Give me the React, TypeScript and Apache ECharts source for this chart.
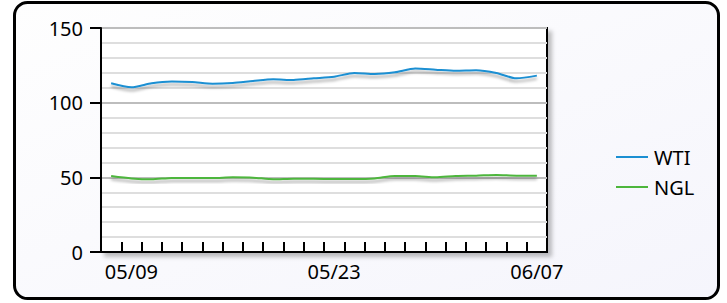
import React, { useEffect, useRef } from "react";
import * as echarts from "echarts";

const categories = [
  "05/06", "05/09", "05/10", "05/11", "05/12", "05/13", "05/16", "05/17", "05/18", "05/19", "05/20",
  "05/23", "05/24", "05/25", "05/26", "05/27", "05/31", "06/01", "06/02", "06/03", "06/06", "06/07",
];
const wtiValues = [
  113.0, 110.3, 113.0, 114.1, 113.8, 112.7, 113.2, 114.5, 115.6, 115.2, 116.3,
  117.4, 119.9, 119.2, 120.3, 122.8, 122.1, 121.4, 121.7, 119.9, 116.3, 118.1,
];
const nglValues = [
  50.9, 49.3, 48.7, 49.6, 49.6, 49.6, 50.0, 49.8, 48.7, 49.1, 49.0,
  48.9, 48.9, 49.3, 50.9, 50.9, 50.0, 50.9, 51.1, 51.6, 51.1, 51.1,
];
const shownLabels = [1, 11, 21];
const yTicks = { min: 0, max: 150, interval: 50 };

const FONT = "Noto Sans";

export default function App() {
  const ref = useRef<HTMLDivElement>(null);
  useEffect(() => {
    if (!ref.current) return;
    const chart = echarts.init(ref.current, undefined, { renderer: "svg" });
    const lineShadow = {
      shadowColor: "rgba(0,0,0,0.35)",
      shadowBlur: 3,
      shadowOffsetY: 3,
    };
    chart.setOption({
      animation: false,
      backgroundColor: "#ffffff",
      textStyle: { fontFamily: FONT },
      graphic: [
        {
          type: "rect",
          z: -100,
          silent: true,
          shape: { x: 14.5, y: 2.5, width: 704, height: 296, r: 13 },
          style: {
            fill: new echarts.graphic.LinearGradient(0, 0, 1, 1, [
              { offset: 0, color: "#fefefe" },
              { offset: 1, color: "#f5f5fc" },
            ]),
            stroke: "#000",
            lineWidth: 3,
          },
        },
      ],
      grid: {
        left: 101,
        right: 180,
        top: 28,
        bottom: 51,
        show: true,
        backgroundColor: "#ffffff",
        borderColor: "#000",
        borderWidth: 2,
        shadowColor: "rgba(0,0,0,0.25)",
        shadowBlur: 4,
        shadowOffsetX: 4,
        shadowOffsetY: 4,
      },
      legend: {
        orient: "vertical",
        left: 611,
        top: 142,
        itemWidth: 32,
        itemHeight: 2,
        itemGap: 10,
        icon: "rect",
        textStyle: { fontFamily: FONT, fontSize: 20, color: "#000", padding: [0, 0, 0, 1] },
        data: ["WTI", "NGL"],
      },
      xAxis: {
        type: "category",
        data: categories,
        boundaryGap: true,
        axisLine: { show: true, lineStyle: { color: "#000", width: 2 } },
        axisTick: { show: true, inside: true, length: 10, interval: 0, lineStyle: { color: "#000", width: 2 } },
        axisLabel: {
          color: "#000",
          fontFamily: FONT,
          fontSize: 20,
          margin: 9,
          interval: (i: number) => shownLabels.includes(i),
        },
        splitLine: { show: false },
      },
      yAxis: {
        type: "value",
        min: yTicks.min,
        max: yTicks.max,
        interval: yTicks.interval,
        axisLine: { show: true, lineStyle: { color: "#000", width: 2 } },
        axisTick: { show: true, inside: false, length: 11, lineStyle: { color: "#000", width: 2 } },
        axisLabel: { color: "#000", fontFamily: FONT, fontSize: 20, margin: 18 },
        splitLine: { show: true, lineStyle: { color: "#bdbdbd", width: 2 } },
        minorTick: { show: false, splitNumber: 5 },
        minorSplitLine: { show: true, lineStyle: { color: "#dedede", width: 2 } },
      },
      series: [
        {
          name: "WTI",
          type: "line",
          data: wtiValues,
          showSymbol: false,
          symbol: "none",
          smooth: 0.25,
          color: "#1b8fd2",
          lineStyle: { width: 2, color: "#1b8fd2", ...lineShadow },
        },
        {
          name: "NGL",
          type: "line",
          data: nglValues,
          showSymbol: false,
          symbol: "none",
          smooth: 0.25,
          color: "#4db63c",
          lineStyle: { width: 2, color: "#4db63c", ...lineShadow },
        },
      ],
    });
    return () => chart.dispose();
  }, []);
  return (
    <div
      ref={ref}
      style={{ position: "fixed", left: 0, top: 0, width: 727, height: 303 }}
    />
  );
}
